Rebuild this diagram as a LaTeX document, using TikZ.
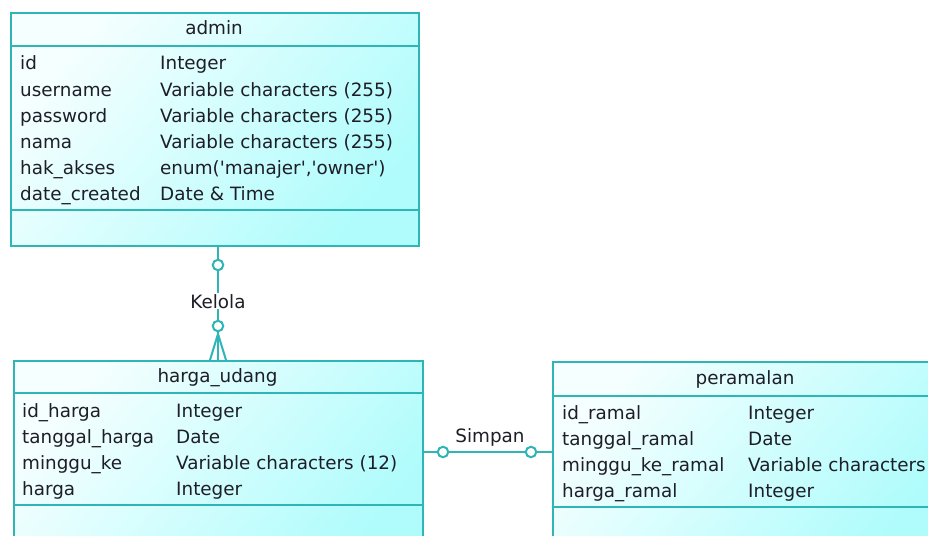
\documentclass[tikz,border=0pt]{standalone}
\usepackage{fontspec}
\setmainfont{DejaVu Sans}
\usetikzlibrary{positioning}
\definecolor{tblline}{HTML}{2EB5B5}
\definecolor{tblfill}{HTML}{B0FCFC}
\definecolor{tbltext}{HTML}{1E1E28}

\begin{document}
\begin{tikzpicture}[
  x=1pt, y=-1pt,
  tbl/.style={draw=tblline, line width=2pt, anchor=north west, inner sep=0,
              top color=tblfill!12, bottom color=tblfill, shading angle=50},
  sep/.style={draw=tblline, line width=2pt},
  head/.style={anchor=base, inner sep=0, text=tbltext, font=\fontsize{18.35}{22}\selectfont},
  fld/.style={anchor=base west, inner sep=0, text=tbltext, font=\fontsize{18.35}{22}\selectfont},
  rel/.style={draw=tblline, line width=2pt},
  opt/.style={circle, draw=tblline, line width=2pt, fill=white, inner sep=0, minimum size=10.5pt},
  rlabel/.style={anchor=base, fill=white, inner sep=1pt, text=tbltext, font=\fontsize{18.35}{22}\selectfont}
]
\useasboundingbox (0,0) rectangle (928,535);
\clip (0,0) rectangle (928,535);
\fill[white] (0,0) rectangle (928,535);

% table admin
\node[tbl, minimum width=408pt, minimum height=233pt] (admin) at (10,12) {};
\draw[sep] (10,46) -- (418,46);
\draw[sep] (10,210) -- (418,210);
\node[head] (admin-head) at (214,35) {admin};
\foreach \f/\t [count=\i] in {id/Integer, username/Variable characters (255),
    password/Variable characters (255), nama/Variable characters (255),
    hak\_akses/{enum(\textquotesingle manajer\textquotesingle,\textquotesingle owner\textquotesingle)},
    date\_created/Date \& Time} {
  \node[fld] (admin-f\i) at (20,44+26*\i) {\f};
  \node[fld] (admin-t\i) at (160,44+26*\i) {\t};
}

% table harga_udang
\node[tbl, minimum width=409pt, minimum height=200pt] (harga) at (13,360) {};
\draw[sep] (13,393) -- (422,393);
\draw[sep] (13,505) -- (422,505);
\node[head] (harga-head) at (217.5,382) {harga\_udang};
\foreach \f/\t [count=\i] in {id\_harga/Integer, tanggal\_harga/Date,
    minggu\_ke/Variable characters (12), harga/Integer} {
  \node[fld] (harga-f\i) at (22,391+26*\i) {\f};
  \node[fld] (harga-t\i) at (176,391+26*\i) {\t};
}

% table peramalan
\node[tbl, minimum width=386pt, minimum height=200pt] (ramal) at (552,361) {};
\draw[sep] (552,396) -- (938,396);
\draw[sep] (552,507) -- (938,507);
\node[head] (ramal-head) at (745,384) {peramalan};
\foreach \f/\t [count=\i] in {id\_ramal/Integer, tanggal\_ramal/Date,
    minggu\_ke\_ramal/Variable characters, harga\_ramal/Integer} {
  \node[fld] (ramal-f\i) at (562,393+26*\i) {\f};
  \node[fld] (ramal-t\i) at (748,393+26*\i) {\t};
}

% relation Kelola: admin 0..1 -- 0..n harga_udang
\coordinate (kelola-top) at (218,245);
\coordinate (kelola-foot) at (218,334);
\coordinate (kelola-l) at (210,360);
\coordinate (kelola-m) at (218,360);
\coordinate (kelola-r) at (226,360);
\draw[rel] (kelola-top) -- (kelola-m);
\draw[rel] (kelola-foot) -- (kelola-l);
\draw[rel] (kelola-foot) -- (kelola-r);
\node[opt] (kelola-a) at (218,265) {};
\node[opt] (kelola-b) at (218,326) {};
\node[rlabel] (kelola) at (218,308) {Kelola};

% relation Simpan: harga_udang 0..1 -- 0..1 peramalan
\coordinate (simpan-l) at (422,452);
\coordinate (simpan-r) at (552,452);
\draw[rel] (simpan-l) -- (simpan-r);
\node[opt] (simpan-a) at (443,452) {};
\node[opt] (simpan-b) at (531,452) {};
\node[rlabel, fill=none] (simpan) at (490,442) {Simpan};
\end{tikzpicture}
\end{document}
